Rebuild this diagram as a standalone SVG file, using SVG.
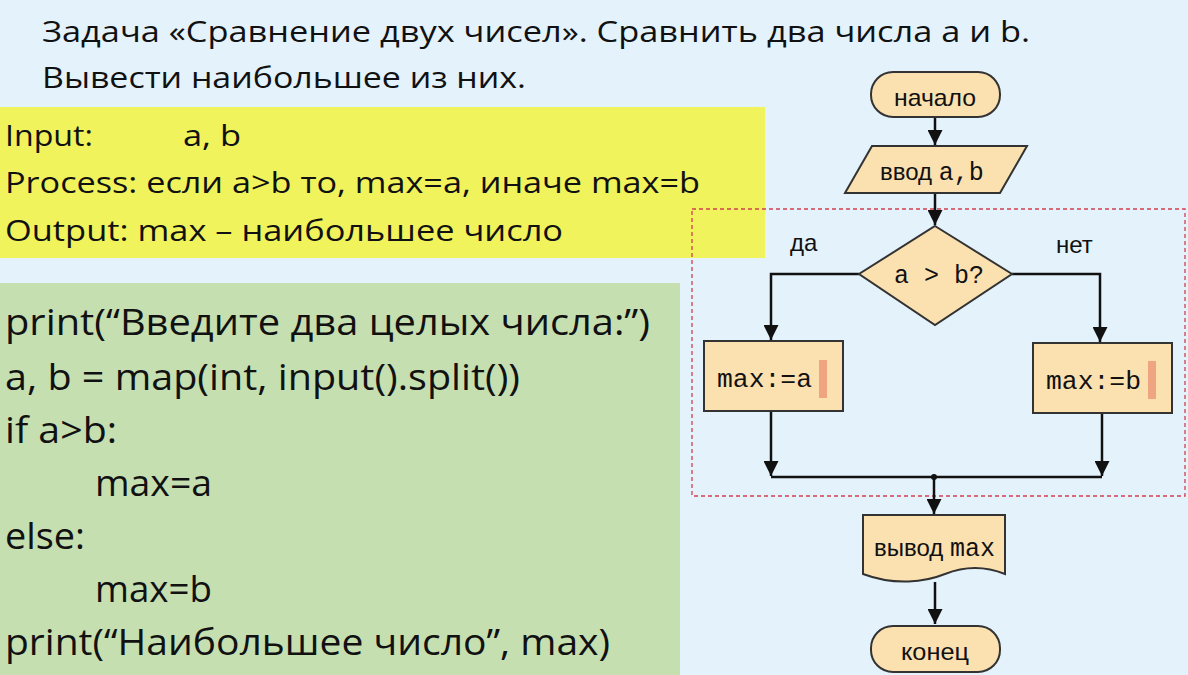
<svg xmlns="http://www.w3.org/2000/svg" width="1188" height="675" viewBox="0 0 1188 675">
<defs>
<style>
.t{font-family:"Open Sans","Liberation Sans",sans-serif;fill:#111}
.fc{fill:#fbe0b0;stroke:#333;stroke-width:2}
.ln{fill:none;stroke:#111;stroke-width:2.5}
.mono{font-family:"Liberation Mono",monospace;font-size:25px;fill:#111}
.nar{font-family:"Liberation Sans Narrow","Liberation Sans",sans-serif;font-size:24px;fill:#111}
</style>
<marker id="ar" viewBox="0 0 10 10" refX="10" refY="5" markerWidth="6" markerHeight="6" orient="auto"><path d="M0,0L10,5L0,10z" fill="#111"/></marker>
</defs>
<rect width="1188" height="675" fill="#e4f2fb"/>
<rect x="0" y="107" width="765" height="151" fill="#f1f35c"/>
<rect x="0" y="283" width="680" height="392" fill="#c6dfb1"/>
<g class="t" font-size="30" lengthAdjust="spacingAndGlyphs">
<text x="42" y="42" textLength="988" lengthAdjust="spacingAndGlyphs">Задача «Сравнение двух чисел». Сравнить два числа a и b.</text>
<text x="42" y="88" textLength="484" lengthAdjust="spacingAndGlyphs">Вывести наибольшее из них.</text>
<text x="5" y="146" textLength="88" lengthAdjust="spacingAndGlyphs">Input:</text><text x="183" y="146" textLength="58" lengthAdjust="spacingAndGlyphs">a, b</text>
<text x="5" y="193" textLength="695" lengthAdjust="spacingAndGlyphs">Process: если a&gt;b то, max=a, иначе max=b</text>
<text x="5" y="241" textLength="558" lengthAdjust="spacingAndGlyphs">Output: max – наибольшее число</text>
</g>
<g class="t" font-size="37">
<text x="5" y="335" textLength="645" lengthAdjust="spacingAndGlyphs">print(“Введите два целых числа:”)</text>
<text x="5" y="390" textLength="515" lengthAdjust="spacingAndGlyphs">a, b = map(int, input().split())</text>
<text x="5" y="443" textLength="112" lengthAdjust="spacingAndGlyphs">if a&gt;b:</text>
<text x="95" y="496" textLength="117" lengthAdjust="spacingAndGlyphs">max=a</text>
<text x="5" y="549" textLength="80" lengthAdjust="spacingAndGlyphs">else:</text>
<text x="95" y="602" textLength="117" lengthAdjust="spacingAndGlyphs">max=b</text>
<text x="5" y="655" textLength="605" lengthAdjust="spacingAndGlyphs">print(“Наибольшее число”, max)</text>
</g>
<rect x="692" y="209" width="493" height="287" fill="none" stroke="#d04050" stroke-width="1.3" stroke-dasharray="4,3"/>
<g id="connectors" class="ln">
<path d="M935,117V145" marker-end="url(#ar)"/>
<path d="M935,193V225" marker-end="url(#ar)"/>
<path d="M859,274H771V340" marker-end="url(#ar)"/>
<path d="M1012,274H1100V342" marker-end="url(#ar)"/>
<path d="M771,411V476" marker-end="url(#ar)"/>
<path d="M1102,413V476" marker-end="url(#ar)"/>
<path d="M771,477H1102"/>
<path d="M934,477V514" marker-end="url(#ar)"/>
<path d="M935,582V624" marker-end="url(#ar)"/>
<circle cx="934" cy="477" r="3" fill="#111" stroke="none"/>
</g>
<text class="nar" x="790" y="251" font-size="20">да</text>
<text class="nar" x="1056" y="253" font-size="20">нет</text>
<g id="start"><rect class="fc" x="871" y="72" width="129" height="45" rx="22"/><text class="nar" x="935" y="106" text-anchor="middle" textLength="82" lengthAdjust="spacingAndGlyphs">начало</text></g>
<g id="input"><path class="fc" d="M845,193L872,146H1027L1000,193Z"/><text x="880" y="180"><tspan class="nar">ввод </tspan><tspan class="mono">a,b</tspan></text></g>
<g id="cond"><path class="fc" d="M935,226L1012,274L935,325L859,274Z"/><text class="mono" x="939" y="283" text-anchor="middle">a &gt; b?</text></g>
<g id="maxa"><rect class="fc" x="704" y="341" width="139" height="70"/><rect x="819" y="360" width="8" height="38" fill="#eea580"/><text class="mono" x="717" y="387" textLength="95" lengthAdjust="spacingAndGlyphs">max:=a</text></g>
<g id="maxb"><rect class="fc" x="1033" y="343" width="139" height="70"/><rect x="1148" y="361" width="8" height="38" fill="#eea580"/><text class="mono" x="1046" y="389" textLength="95" lengthAdjust="spacingAndGlyphs">max:=b</text></g>
<g id="output"><path class="fc" d="M863,515H1005V574C985,566 965,566 945,574C925,582 895,586 863,574Z"/><text x="874" y="556"><tspan class="nar">вывод </tspan><tspan class="mono">max</tspan></text></g>
<g id="end"><rect class="fc" x="871" y="626" width="129" height="46" rx="22"/><text class="nar" x="935" y="660" text-anchor="middle" textLength="68" lengthAdjust="spacingAndGlyphs">конец</text></g>
</svg>
